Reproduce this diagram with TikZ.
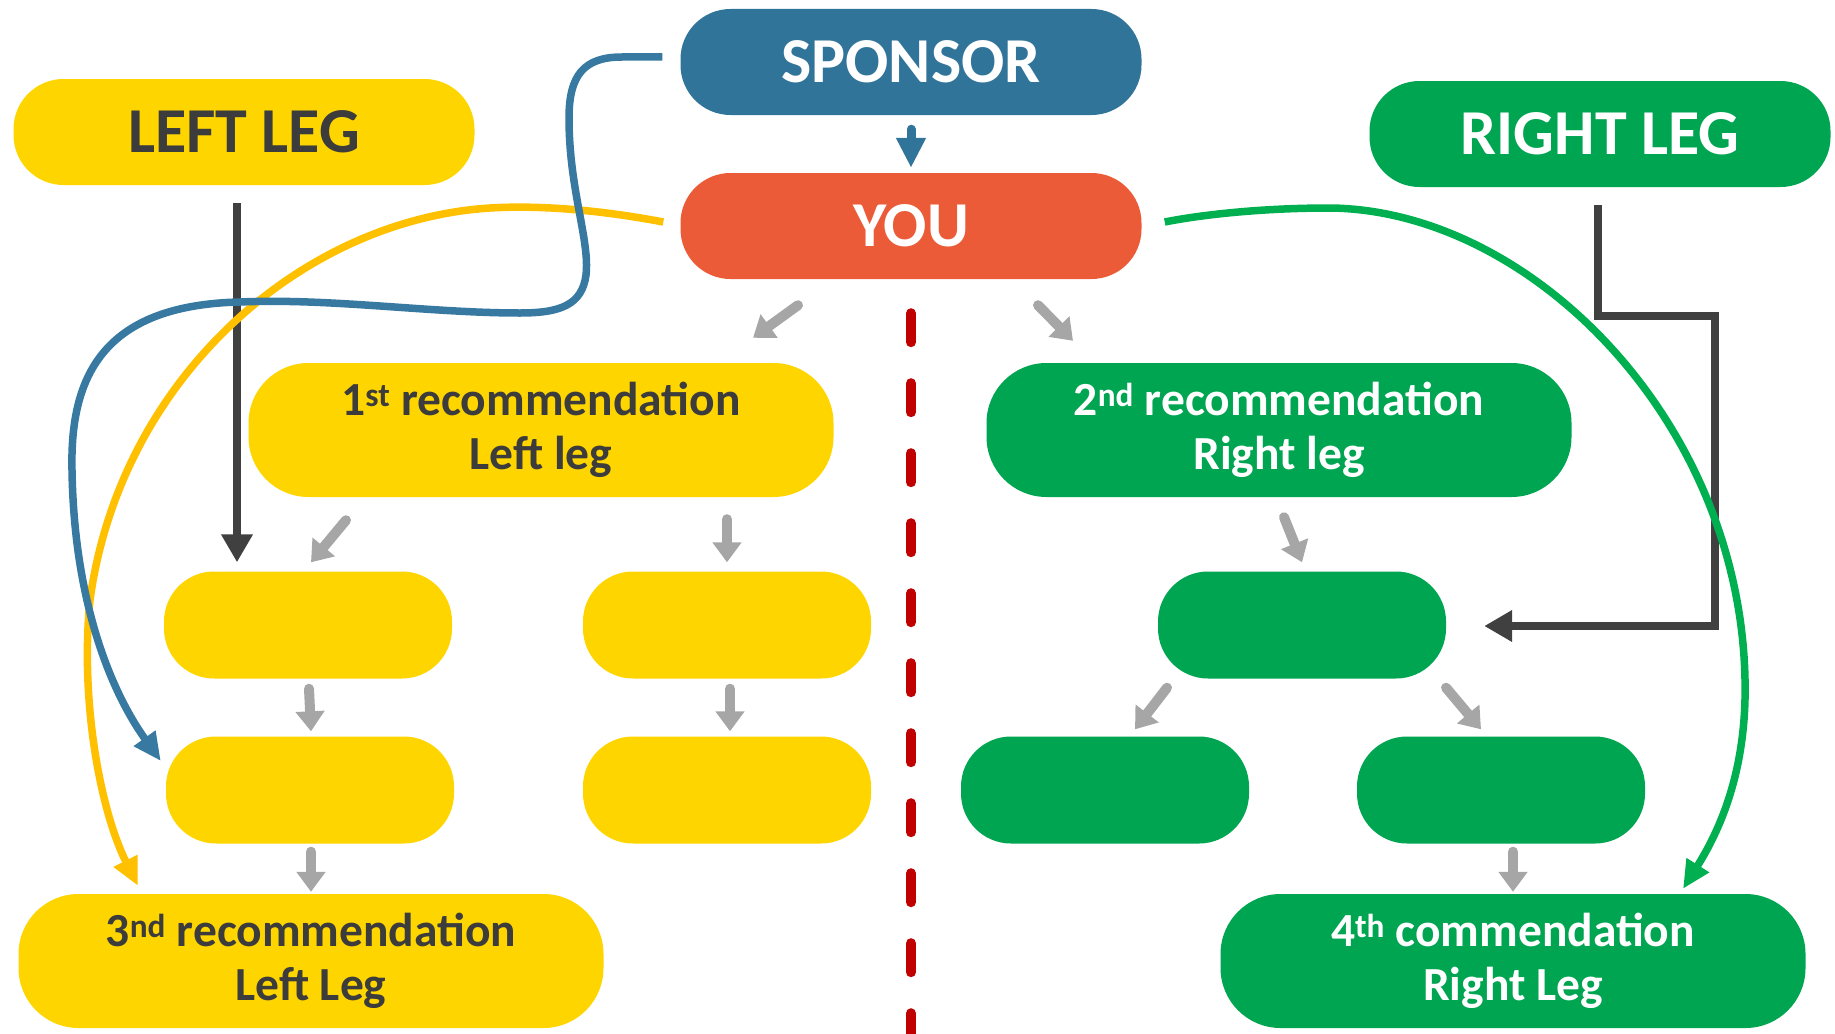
\documentclass[tikz,border=0pt]{standalone}
\usepackage{fontspec}
\setmainfont{Carlito}
\usetikzlibrary{arrows.meta}
\definecolor{cspon}{HTML}{31749A}
\definecolor{cyou}{HTML}{EB5B37}
\definecolor{cyel}{HTML}{FFD500}
\definecolor{cgrn}{HTML}{00A551}
\definecolor{ctxt}{HTML}{3C3C3C}
\definecolor{cgray}{HTML}{A6A6A6}
\definecolor{cdark}{HTML}{404040}
\definecolor{cbline}{HTML}{3779A0}
\definecolor{cyline}{HTML}{FFC000}
\definecolor{cgline}{HTML}{00B050}
\definecolor{cred}{HTML}{C00000}
\begin{document}
\begin{tikzpicture}[x=1pt,y=-1pt,
  pill/.style={rectangle, inner sep=0pt, draw=none},
  bigbox/.style={pill, minimum width=461pt, minimum height=106pt, rounded corners=50pt,
    font=\fontsize{64}{72}\selectfont\bfseries},
  recbox/.style={pill, minimum width=585pt, minimum height=134pt, rounded corners=60pt,
    align=center, font=\fontsize{47.5}{54}\selectfont\bfseries},
  smallbox/.style={pill, minimum width=288pt, minimum height=107pt, rounded corners=50pt},
  yel/.style={fill=cyel, text=ctxt},
  grn/.style={fill=cgrn, text=white},
  garrow/.style={draw=cgray, line width=10pt, line cap=round, -{Triangle[length=20pt,width=28pt]}},
  darrow/.style={draw=cdark, line width=8pt, -{Triangle[length=28pt,width=30pt]}},
  curve/.style={line width=7.5pt, -{Triangle[length=28pt,width=25pt]}},
  reddash/.style={draw=cred, line width=10pt, line cap=round, dash pattern=on 29pt off 41pt}
]
\useasboundingbox (0,0) rectangle (1835,1033);

% nodes
\node[bigbox, fill=cspon, text=white] (spon) at (911,62) {SPONSOR};
\node[bigbox, fill=cyou, text=white] (you) at (911,226) {YOU};
\node[bigbox, yel] (lleg) at (244,132) {LEFT LEG};
\node[bigbox, grn] (rleg) at (1600,134) {RIGHT LEG};
\node[recbox, yel] (r1) at (541,430) {1\textsuperscript{st} recommendation\\Left leg};
\node[recbox, grn] (r2) at (1279,430) {2\textsuperscript{nd} recommendation\\Right leg};
\node[smallbox, yel] (y1) at (308,625) {};
\node[smallbox, yel] (y2) at (727,625) {};
\node[smallbox, yel] (y3) at (310,790) {};
\node[smallbox, yel] (y4) at (727,790) {};
\node[smallbox, grn] (g1) at (1302,625) {};
\node[smallbox, grn] (g2) at (1105,790) {};
\node[smallbox, grn] (g3) at (1501,790) {};
\node[recbox, yel] (r3) at (311,961) {3\textsuperscript{nd} recommendation\\Left Leg};
\node[recbox, grn] (r4) at (1513,961) {4\textsuperscript{th} commendation\\Right Leg};

% red dashed divider
\draw[reddash] ([yshift=-34pt]you.south) -- ++(0,780);

% sponsor -> you
\draw[draw=cspon, line width=9pt, line cap=round, -{Triangle[length=30pt,width=28pt]}]
  ([yshift=-14pt]spon.south) -- ([yshift=5pt]you.north);

% gray arrows
\draw[garrow] ([shift={(-113,26)}]you.south) -- ([shift={(212,-25)}]r1.north);
\draw[garrow] ([shift={(127,26)}]you.south) -- ([shift={(-206,-22)}]r2.north);
\draw[garrow] ([shift={(-195,23)}]r1.south) -- ([shift={(3,-9)}]y1.north);
\draw[garrow] ([shift={(186,22)}]r1.south) -- ([shift={(0,-9)}]y2.north);
\draw[garrow] ([shift={(1,10)}]y1.south) -- ([shift={(1,-5)}]y3.north);
\draw[garrow] ([shift={(3,10)}]y2.south) -- ([shift={(3,-5)}]y4.north);
\draw[garrow] ([shift={(1,8)}]y3.south) -- ([shift={(0,-2)}]r3.north);
\draw[garrow] ([shift={(5,20)}]r2.south) -- ([shift={(0,-9)}]g1.north);
\draw[garrow] ([shift={(-135,9)}]g1.south) -- ([shift={(30,-7)}]g2.north);
\draw[garrow] ([shift={(144,9)}]g1.south) -- ([shift={(-20,-7)}]g3.north);
\draw[garrow] ([shift={(12,8)}]g3.south) -- ([shift={(0,-2)}]r4.north);

% dark arrows
\draw[darrow] ([shift={(-7,18)}]lleg.south) -- ([shift={(-71,-9)}]y1.north);
\draw[darrow] ([shift={(-2,18)}]rleg.south) -- ++(0,111) -- ++(117,0)
  |- ([shift={(38,1)}]g1.east);

% curves
\draw[curve, draw=cyline] ([shift={(-17,-4)}]you.west)
  .. controls (600,210) and (540,205) .. (490,208)
  .. controls (300,220) and (120,380) .. (90,600)
  .. controls (80,700) and (100,810) .. ([shift={(-173,-8)}]r3.north);
\draw[curve, draw=cbline] ([shift={(-18,-5)}]spon.west) -- (622,57)
  .. controls (584,57) and (569,75) .. (569,118)
  .. controls (569,190) and (590,240) .. (586,275)
  .. controls (582,305) and (560,313) .. (520,313)
  .. controls (430,313) and (330,298) .. (240,302)
  .. controls (100,305) and (70,380) .. (72,470)
  .. controls (74,600) and (110,690) .. ([shift={(-5,-29)}]y3.west);
\draw[curve, draw=cgline] ([shift={(23,-4)}]you.east)
  .. controls (1200,215) and (1260,208) .. (1330,208)
  .. controls (1530,210) and (1740,420) .. (1745,680)
  .. controls (1747,770) and (1720,830) .. ([shift={(170,-5)}]r4.north);
\end{tikzpicture}
\end{document}
